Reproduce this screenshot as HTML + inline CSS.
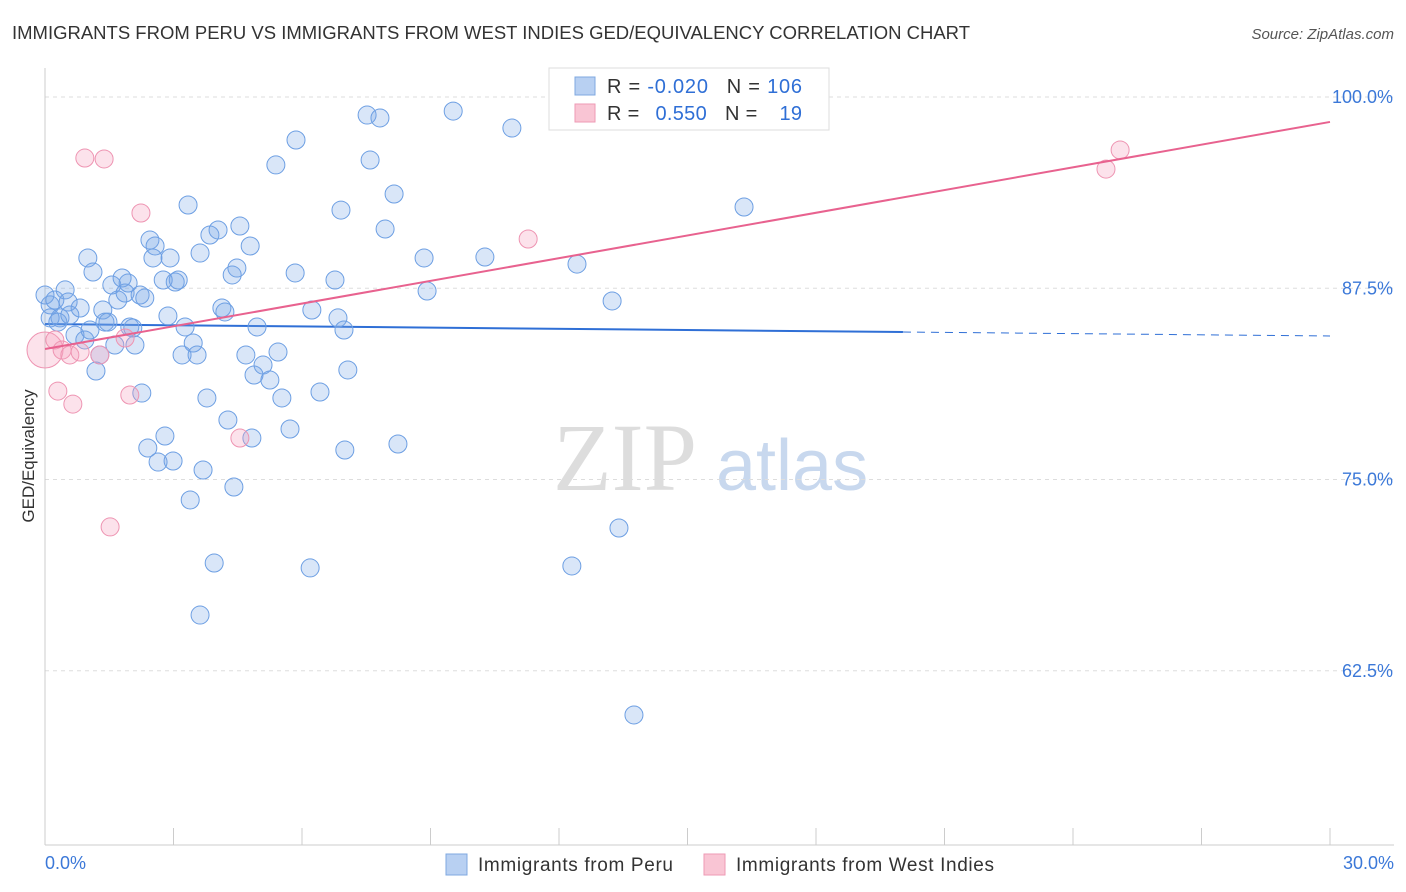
<!DOCTYPE html>
<html><head><meta charset="utf-8"><style>
body{margin:0;background:#fff;font-family:"Liberation Sans",sans-serif}
svg{display:block}
</style></head><body>
<svg id="c" width="1406" height="892">
<text x="12" y="39" font-size="18" fill="#333" textLength="958" lengthAdjust="spacingAndGlyphs">IMMIGRANTS FROM PERU VS IMMIGRANTS FROM WEST INDIES GED/EQUIVALENCY CORRELATION CHART</text>
<text x="1394" y="39" font-size="15" fill="#555" font-style="italic" text-anchor="end">Source: ZipAtlas.com</text>
<text transform="translate(34,456) rotate(-90)" font-size="17" fill="#333" text-anchor="middle">GED/Equivalency</text>
<g><text x="553" y="490" font-size="96" fill="#ddd" font-family="Liberation Serif">ZIP</text><text x="716" y="490" font-size="72" fill="#c8d8ee">atlas</text></g>
<g id="grid"></g><g id="axes"></g><g id="lines"></g><g id="pts"></g>
<g>
<rect x="549" y="68" width="280" height="62" fill="#fff" stroke="#ddd"/>
<rect x="575" y="77" width="20" height="18" fill="#b8d0f2" stroke="#7fa8e0"/>
<rect x="575" y="104" width="20" height="18" fill="#f9c5d4" stroke="#ee9ab4"/>
<text x="607" y="93" font-size="20" fill="#333" textLength="195" lengthAdjust="spacing">R = <tspan fill="#2f6fd6">-0.020</tspan><tspan dx="18">N = </tspan><tspan fill="#2f6fd6">106</tspan></text>
<text x="607" y="120" font-size="20" fill="#333" textLength="195" lengthAdjust="spacing">R = <tspan fill="#2f6fd6" dx="10">0.550</tspan><tspan dx="18">N = </tspan><tspan fill="#2f6fd6" dx="16">19</tspan></text>
</g>
<g>
<rect x="446" y="854" width="21" height="21" fill="#b8d0f2" stroke="#7fa8e0"/>
<text x="478" y="871" font-size="19" fill="#333" textLength="195">Immigrants from Peru</text>
<rect x="704" y="854" width="21" height="21" fill="#f9c5d4" stroke="#ee9ab4"/>
<text x="736" y="871" font-size="19" fill="#333" textLength="258">Immigrants from West Indies</text>
</g>
</svg>
<script>
const blueX=[0,0.12,0.23,0.47,0.54,0.35,0.12,0.30,0.58,0.82,0.70,0.93,1.05,1.0,1.12,1.19,1.28,1.35,1.40,1.47,1.56,1.63,1.70,1.80,1.87,1.94,1.98,2.05,2.10,2.22,2.33,2.26,2.40,2.45,2.57,2.52,2.64,2.76,2.80,2.87,2.92,2.99,3.04,3.11,3.20,3.27,3.34,3.39,3.46,3.55,3.62,3.62,3.69,3.78,3.85,3.95,4.04,4.13,4.20,4.27,4.37,4.41,4.48,4.55,4.69,4.79,4.83,4.88,4.95,5.09,5.25,5.39,5.44,5.53,5.72,5.84,5.86,6.19,6.23,6.42,6.77,6.84,6.91,6.98,7.00,7.07,7.52,7.59,7.82,7.94,8.15,8.24,8.85,8.92,9.53,10.27,10.90,12.30,12.42,13.24,13.40,13.75,16.32];
const blueY=[87.06,86.41,86.73,87.39,86.60,85.56,85.56,85.29,85.75,86.21,84.44,84.12,84.77,89.48,88.56,82.09,83.14,86.08,85.29,85.29,87.71,83.79,86.73,88.17,87.19,87.84,84.97,84.90,83.79,87.06,86.86,80.65,77.06,90.65,90.26,89.48,76.14,88.04,77.84,85.69,89.48,76.21,87.91,88.04,83.14,84.97,92.94,73.66,83.92,83.14,66.14,89.80,75.62,80.33,90.98,69.54,91.31,86.21,85.95,78.89,88.37,74.51,88.82,91.57,83.14,90.26,77.71,81.83,84.97,82.48,81.50,95.56,83.33,80.33,78.30,88.50,97.19,69.22,86.08,80.72,88.04,85.56,92.61,84.77,76.93,82.16,98.82,95.88,98.63,91.37,93.66,77.32,89.48,87.32,99.08,89.54,97.97,69.35,89.08,86.67,71.83,59.61,92.81];
const pinkX=[0,0.23,0.30,0.40,0.58,0.65,0.82,0.93,1.28,1.38,1.52,1.87,1.98,2.24,4.55,11.28,24.77,25.10];
const pinkY=[83.46,84.12,80.78,83.46,83.14,79.93,83.33,96.01,83.14,95.95,71.90,84.25,80.52,92.42,77.71,90.72,95.29,96.54];
const pinkR=[18,9,9,9,9,9,9,9,9,9,9,9,9,9,9,9,9,9];
const blueTrend=[85.16,84.38], blueSolidEnd=20.03;
const pinkTrend=[83.53,98.37];
const yTicks=[100,87.5,75,62.5];
const yTickLabels=["100.0%","87.5%","75.0%","62.5%"];
const xTicks=[0,3,6,9,12,15,18,21,24,27,30];
const NS='http://www.w3.org/2000/svg';
const X=v=>45+v*1285/30, Y=v=>97+(100-v)*15.3;
function mk(p,t,a){const e=document.createElementNS(NS,t);for(const k in a)e.setAttribute(k,a[k]);document.getElementById(p).appendChild(e);return e;}
yTicks.forEach((t,i)=>{
 const l=mk('grid','line',{x1:45,x2:1394,y1:Y(t),y2:Y(t),stroke:'#ddd','stroke-dasharray':'4,4'});
 
 
 const tx=mk('grid','text',{x:1393,y:Y(t)+6,'font-size':18,fill:'#3b78d8','text-anchor':'end'});
 tx.textContent=yTickLabels[i];
 
 
});
const ax=mk('axes','line',{x1:45,x2:45,y1:68,y2:845,stroke:'#ccc'});


const bx=mk('axes','line',{x1:45,x2:1394,y1:845,y2:845,stroke:'#ccc'});


xTicks.forEach(t=>{const l=mk('axes','line',{x1:X(t),x2:X(t),y1:828,y2:845,stroke:'#ccc'});
 
 });
const x0=mk('axes','text',{x:45,y:869,'font-size':18,fill:'#3b78d8'});x0.textContent='0.0%';


const x1=mk('axes','text',{x:1394,y:869,'font-size':18,fill:'#3b78d8','text-anchor':'end'});x1.textContent='30.0%';


const bAt=v=>blueTrend[0]+(blueTrend[1]-blueTrend[0])*v/30;
const bl=mk('lines','line',{x1:X(0),y1:Y(bAt(0)),x2:X(blueSolidEnd),y2:Y(bAt(blueSolidEnd)),stroke:'#2f6fd6','stroke-width':2});


const bd=mk('lines','line',{x1:X(blueSolidEnd),y1:Y(bAt(blueSolidEnd)),x2:X(30),y2:Y(bAt(30)),stroke:'#2f6fd6','stroke-width':1,'stroke-dasharray':'8,6'});


blueX.forEach((v,i)=>{const c=mk('pts','circle',{cx:X(v),cy:Y(blueY[i]),r:9,fill:'rgba(120,165,230,0.28)',stroke:'#6d9fe3','stroke-width':1});
 
 });
pinkX.forEach((v,i)=>{const c=mk('pts','circle',{cx:X(v),cy:Y(pinkY[i]),r:pinkR[i],fill:'rgba(245,160,190,0.3)',stroke:'#ee94b2','stroke-width':1});
 
 });
const pl=mk('pts','line',{x1:X(0),y1:Y(pinkTrend[0]),x2:X(30),y2:Y(pinkTrend[1]),stroke:'#e8628f','stroke-width':2});


</script>
</body></html>
